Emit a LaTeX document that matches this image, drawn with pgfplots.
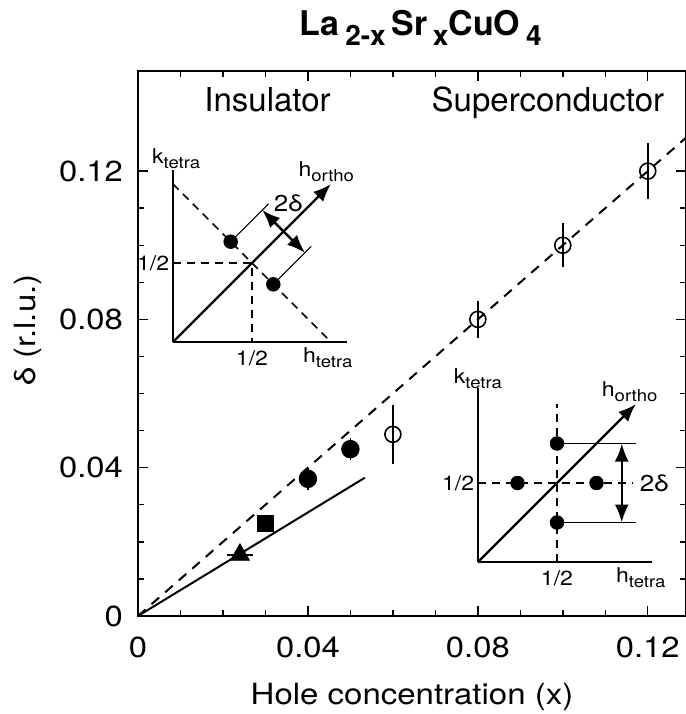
\documentclass[border=0pt]{standalone}
\usepackage{fontspec}
\setmainfont{TeX Gyre Heros}
\newfontfamily\wide{TeX Gyre Heros}[FakeStretch=1.13]
\usepackage{pgfplots}
\pgfplotsset{compat=1.18}
\usetikzlibrary{arrows.meta}

\newcommand{\ins}{\wide\fontsize{10.2}{12}\selectfont}
\newcommand{\lsub}[1]{\raisebox{-0.5ex}{\fontsize{8.2}{10}\selectfont #1}}
\newcommand{\tsub}[1]{\raisebox{-5pt}{\fontsize{14}{16}\selectfont #1}}

\pgfplotsset{
  inset/.style={
    scale only axis, clip=false,
    xmin=0, xmax=1.1, ymin=0, ymax=1.1,
    axis x line=bottom, axis y line=left,
    axis line style={-, line width=1pt},
    xtick=\empty, ytick=\empty,
  },
}
\tikzset{
  guide/.style={line width=0.8pt, dash pattern=on 4pt off 3pt},
  bigarrow/.style={-{Latex[length=9pt,width=7pt]}, line width=1.2pt},
  dblarrow/.style={{Latex[length=9pt,width=7pt]}-{Latex[length=9pt,width=7pt]}, line width=1.2pt},
}

\begin{document}
\begin{tikzpicture}
\begin{axis}[
  name=main, at={(0,0)}, anchor=south west,
  scale only axis, width=274pt, height=272.5pt,
  xmin=0, xmax=0.129, ymin=0, ymax=0.147,
  xtick={0,0.04,0.08,0.12}, xticklabels={0,0.04,0.08,0.12},
  ytick={0,0.04,0.08,0.12}, yticklabels={0,0.04,0.08,0.12},
  minor tick num=3,
  tick align=inside,
  major tick length=5pt, minor tick length=3pt,
  tick style={line width=0.7pt, black},
  axis line style={line width=0.9pt},
  ticklabel style={font=\wide\fontsize{14.5}{17}\selectfont},
  xticklabel style={anchor=base, yshift=-20.5pt},
  yticklabel style={xshift=-4pt},
  xlabel={Hole concentration (x)},
  ylabel={δ (r.l.u.)},
  label style={font=\wide\fontsize{14.6}{17}\selectfont},
  xlabel style={at={(axis description cs:0.5,0)}, anchor=base, yshift=-44pt},
  ylabel style={at={(axis description cs:-0.2,0.525)}, anchor=center},
  clip=false,
]
% guide lines
\addplot[line width=1pt, dash pattern=on 5pt off 4pt] coordinates {(0,0) (0.129,0.129)};
\addplot[line width=1pt] coordinates {(0,0) (0.0534,0.0373)};

% superconducting samples
\addplot[only marks, mark=o, mark size=4pt, mark options={fill=white, line width=0.8pt},
  error bars/.cd, y dir=both, y explicit, error mark=none,
  error bar style={line width=0.8pt}]
coordinates {
  (0.06,0.049) +- (0,0.008)
  (0.08,0.080) +- (0,0.005)
  (0.10,0.100) +- (0,0.006)
  (0.12,0.120) +- (0,0.0075)
};
% insulating samples
\addplot[only marks, mark=*, mark size=4.4pt,
  error bars/.cd, y dir=both, y explicit, error mark=none,
  error bar style={line width=0.8pt}]
coordinates {
  (0.04,0.037) +- (0,0.003)
  (0.05,0.045) +- (0,0.003)
};
\addplot[only marks, mark=square*, mark size=4.2pt] coordinates {(0.03,0.025)};
\addplot[only marks, mark=triangle*, mark size=5.5pt,
  error bars/.cd, x dir=both, x explicit, error mark=none,
  error bar style={line width=0.8pt}]
coordinates {(0.024,0.0165) +- (0.003,0)};

\node[anchor=base, font=\fontsize{16.5}{18}\selectfont] at (axis cs:0.0305,0.1362) {Insulator};
\node[anchor=base, font=\fontsize{16.5}{18}\selectfont] at (axis cs:0.0965,0.1362) {Superconductor};
\node[anchor=base, font=\fontsize{17}{20}\selectfont\bfseries] at (rel axis cs:0.516,1.066)
  {La\,\tsub{2-x}\,Sr\,\tsub{x}CuO\,\tsub{4}};
\end{axis}

% insulator: diagonal stripes
\begin{axis}[inset, at={(17.5pt,137pt)}, anchor=south west,
  width=86.9pt, height=86.1pt, ymax=1.09]
\addplot[guide] coordinates {(0,1) (1,0)};
\addplot[guide] coordinates {(0,0.5) (0.5,0.5) (0.5,0)};
\draw[bigarrow] (axis cs:0,0) -- (axis cs:1.0,1.0);
\addplot[line width=0.5pt] coordinates {(0.365,0.635) (0.605,0.875)};
\addplot[line width=0.5pt] coordinates {(0.635,0.365) (0.875,0.605)};
\draw[dblarrow] (axis cs:0.565,0.835) -- (axis cs:0.835,0.565);
\addplot[only marks, mark=*, mark size=3.4pt] coordinates {(0.365,0.635) (0.635,0.365)};
\node[font=\ins] at (axis cs:0.02,1.16) {k\lsub{tetra}};
\node[font=\ins] at (axis cs:0.97,1.08) {h\lsub{ortho}};
\node[font=\ins\fontsize{11.5}{13}\selectfont] at (axis cs:0.73,0.88) {2δ};
\node[font=\ins, anchor=east] at (axis cs:0.02,0.5) {1/2};
\node[font=\ins] at (axis cs:0.5,-0.1) {1/2};
\node[font=\ins] at (axis cs:0.98,-0.1) {h\lsub{tetra}};
\end{axis}

% superconductor: vertical / horizontal peaks
\begin{axis}[inset, at={(170pt,27pt)}, anchor=south west,
  width=86.9pt, height=86.9pt]
\addplot[guide] coordinates {(0.5,0) (0.5,1.0)};
\addplot[guide] coordinates {(0,0.5) (0.98,0.5)};
\draw[bigarrow] (axis cs:0,0) -- (axis cs:1.0,1.0);
\addplot[line width=0.5pt] coordinates {(0.5,0.75) (1.0,0.75)};
\addplot[line width=0.5pt] coordinates {(0.5,0.25) (1.0,0.25)};
\draw[dblarrow] (axis cs:0.91,0.75) -- (axis cs:0.91,0.25);
\addplot[only marks, mark=*, mark size=3.4pt]
  coordinates {(0.5,0.75) (0.5,0.25) (0.25,0.5) (0.75,0.5)};
\node[font=\ins] at (axis cs:0.0,1.16) {k\lsub{tetra}};
\node[font=\ins] at (axis cs:0.96,1.08) {h\lsub{ortho}};
\node[font=\ins\fontsize{11.5}{13}\selectfont, anchor=west] at (axis cs:0.98,0.5) {2δ};
\node[font=\ins, anchor=east] at (axis cs:0.02,0.5) {1/2};
\node[font=\ins] at (axis cs:0.5,-0.1) {1/2};
\node[font=\ins] at (axis cs:1.03,-0.1) {h\lsub{tetra}};
\end{axis}

\pgfresetboundingbox
\path[use as bounding box] (-69pt,-49pt) rectangle (274pt,308pt);
\end{tikzpicture}
\end{document}
